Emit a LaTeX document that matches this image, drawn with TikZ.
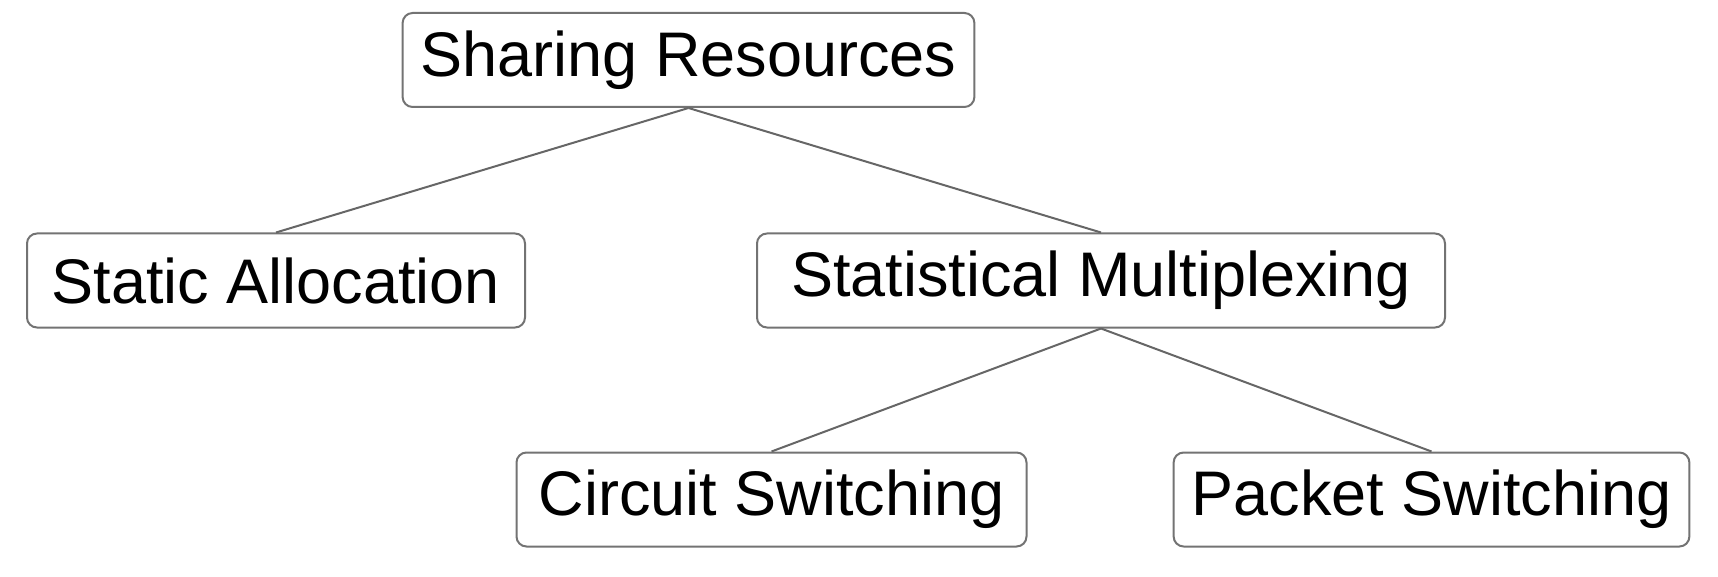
\documentclass[tikz,border=0pt]{standalone}
\usepackage{fontspec}
\setmainfont{Liberation Sans}
\usetikzlibrary{positioning}

\begin{document}
\begin{tikzpicture}[
  x=0.5pt, y=-0.5pt,
  font=\fontsize{31.5}{37}\selectfont,
  box/.style={draw=black!55, line width=1pt, rounded corners=5pt, align=center,
    minimum height=47pt, inner xsep=9pt, fill=white},
  link/.style={draw=black!60, line width=1pt}
]
\useasboundingbox (0,0) rectangle (1718,577);

\node[box, minimum width=284pt] (share) at (688.5,60) {Sharing Resources};
\node[box, minimum width=249pt] (static) at (276,280.5) {Static Allocation};
\node[box, minimum width=344pt] (statmux) at (1101,280.5) {Statistical Multiplexing};
\node[box, minimum width=255pt] (circuit) at (771.5,499.5) {Circuit Switching};
\node[box, minimum width=255pt] (packet) at (1431.5,499.5) {Packet Switching};

\draw[link] (share.south) -- (static.north);
\draw[link] (share.south) -- (statmux.north);
\draw[link] (statmux.south) -- (circuit.north);
\draw[link] (statmux.south) -- (packet.north);

\end{tikzpicture}
\end{document}
